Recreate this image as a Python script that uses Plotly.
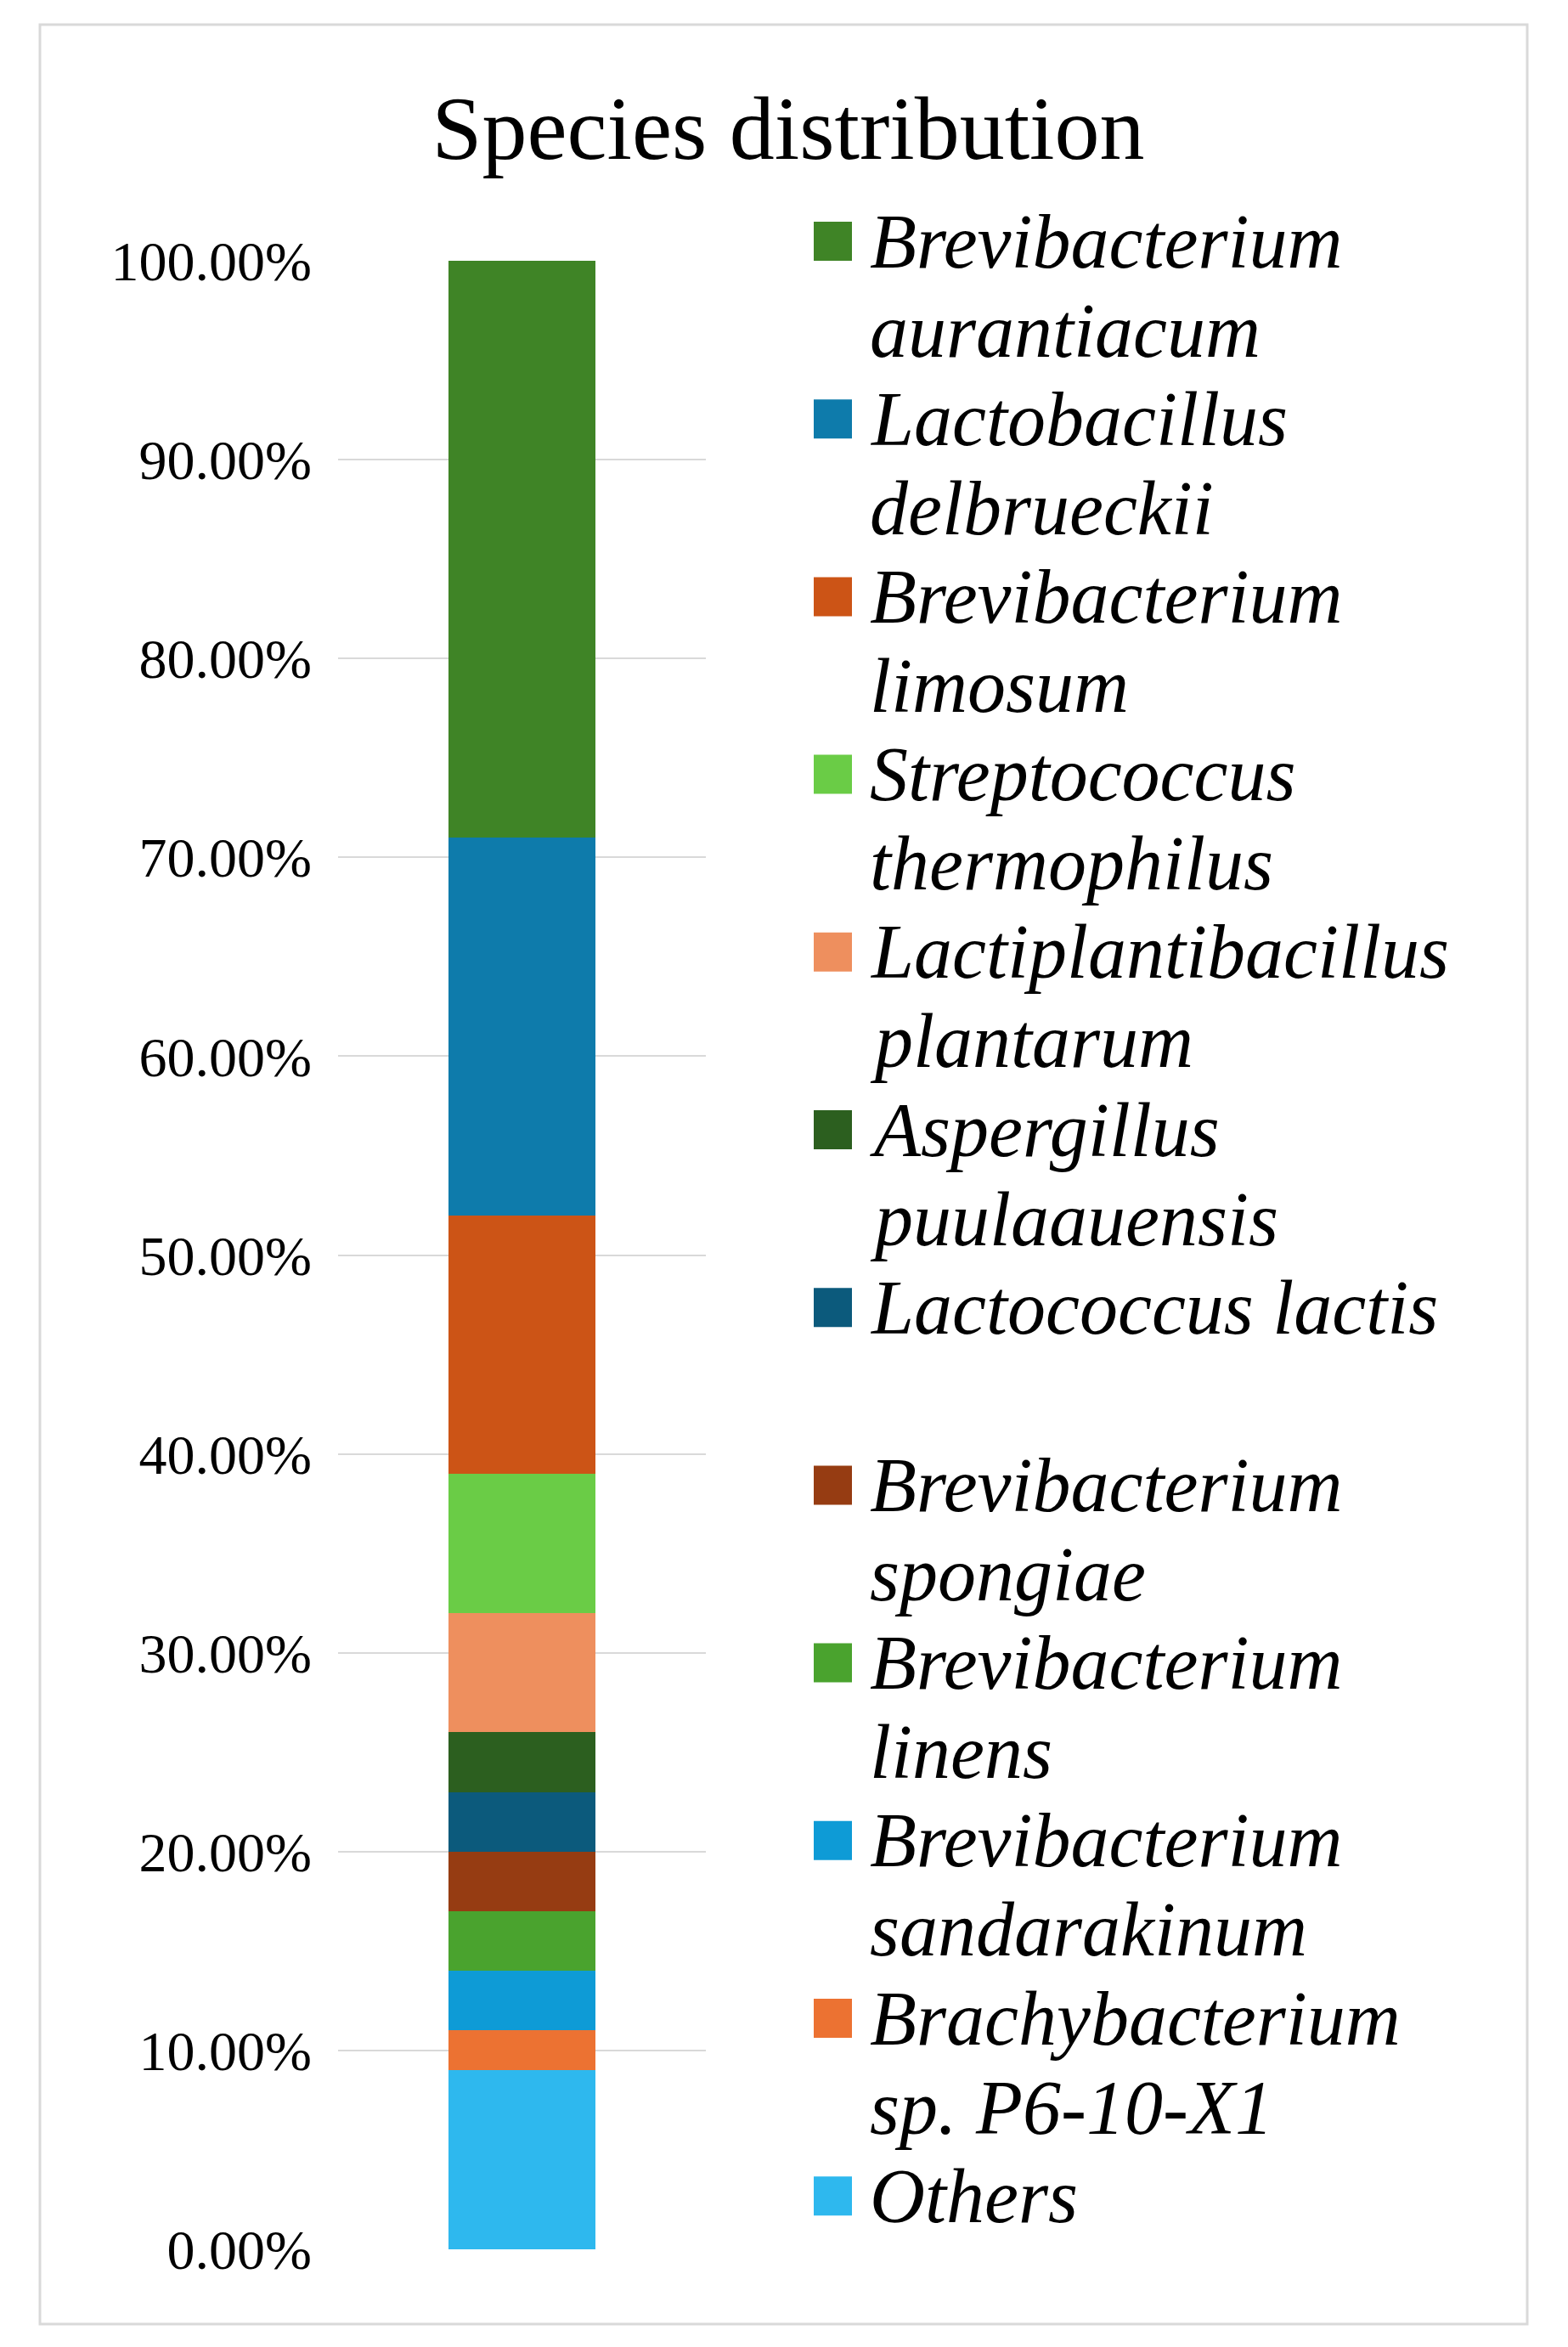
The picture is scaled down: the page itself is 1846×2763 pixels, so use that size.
import plotly.graph_objects as go

# stack order, bottom to top
species = ["Others", "Brachybacterium|sp. P6-10-X1", "Brevibacterium|sandarakinum",
           "Brevibacterium|linens", "Brevibacterium|spongiae", "Lactococcus lactis",
           "Aspergillus|puulaauensis", "Lactiplantibacillus|plantarum",
           "Streptococcus|thermophilus", "Brevibacterium|limosum",
           "Lactobacillus|delbrueckii", "Brevibacterium|aurantiacum"]
shares = [0.09, 0.02, 0.03, 0.03, 0.03, 0.03, 0.03, 0.06, 0.07, 0.13, 0.19, 0.29]
colors = ["#2EB8EE", "#EC7232", "#0E9BD6", "#4AA32E", "#963C12", "#0C5A7C",
          "#2C5F1F", "#EE8F5E", "#6ACC46", "#CC5416", "#0E7BAB", "#3F8426"]

W, H = 1846, 2763
L, R, T, B = 390, 823, 299, 2640  # plot area in px
pw, ph = R - L, B - T

def px(x):
    return (x - L) / pw

def py(y):
    return (B - y) / ph

fig = go.Figure()
for name, v, c in zip(species, shares, colors):
    fig.add_trace(go.Bar(x=["Sample"], y=[v], name=name.replace("|", " "), marker_color=c,
                         marker_line_width=0, width=0.4, showlegend=False))

# hand-drawn legend, top entry = top of stack
for i, (name, c) in enumerate(zip(species[::-1], colors[::-1])):
    y1 = 276 + 209.2 * i
    fig.add_shape(type="rect", xref="paper", yref="paper", x0=px(950), x1=px(995),
                  y0=py(y1 + 23), y1=py(y1 - 23), fillcolor=c, line_width=0)
    for k, part in enumerate(name.split("|")):
        fig.add_annotation(text="<i>" + part + "</i>", xref="paper", yref="paper",
                           x=px(1014), y=py(y1 + 105 * k), xanchor="left", yanchor="middle",
                           showarrow=False, font=dict(size=90, family="Liberation Serif"))

fig.update_layout(
    width=W, height=H, barmode="stack",
    paper_bgcolor="white", plot_bgcolor="white",
    margin=dict(l=L, r=W - R, t=T, b=H - B),
    font=dict(family="Liberation Serif", color="#000000"),
    title=dict(text="Species distribution", x=920 / W, xanchor="center",
               y=1 - 142 / H, yanchor="middle", font=dict(size=106)),
    showlegend=False,
)
fig.update_xaxes(showticklabels=False, showgrid=False, showline=False)
fig.update_yaxes(range=[0, 1], dtick=0.1, tickformat=".2%", gridcolor="#D9D9D9",
                 gridwidth=2, zeroline=False, tickfont=dict(size=66), ticks="",
                 ticklabelstandoff=30)
fig.add_shape(type="rect", xref="paper", yref="paper", x0=px(39), x1=px(1790),
              y0=py(2728), y1=py(21), line=dict(color="#D9D9D9", width=3))
fig.write_html("out.html")
